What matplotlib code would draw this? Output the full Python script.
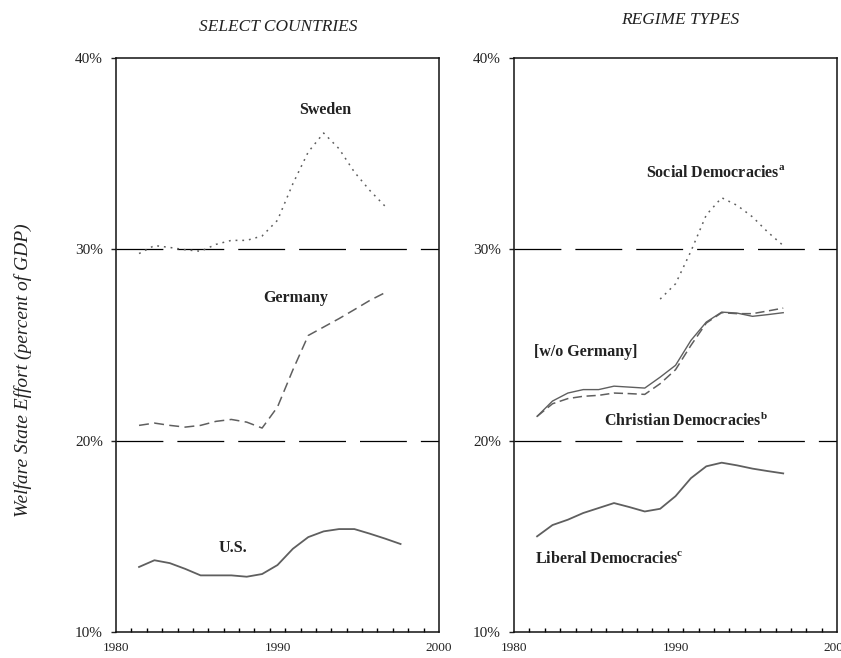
import numpy as np
import matplotlib
matplotlib.use("Agg")
import matplotlib.pyplot as plt

plt.rcParams['font.family'] = ['Liberation Serif', 'DejaVu Serif']
plt.rcParams['mathtext.fontset'] = 'custom'
plt.rcParams['mathtext.bf'] = 'Liberation Serif:bold'
plt.rcParams['mathtext.rm'] = 'Liberation Serif'

# --- data (percent of GDP) ---
years = np.arange(1981, 1999)

us = [13.4, 13.75, 13.6, 13.3, 12.96, 12.96, 12.96, 12.89, 13.03, 13.5,
      14.35, 14.96, 15.26, 15.38, 15.38, 15.14, 14.88, 14.6]
sweden = [29.78, 30.2, 30.1, 29.98, 29.9, 30.26, 30.47, 30.47, 30.7, 31.52,
          33.43, 35.09, 36.08, 35.26, 34.04, 33.08, 32.25]
germany = [20.8, 20.92, 20.8, 20.71, 20.8, 21.01, 21.11, 20.97, 20.66, 21.76,
           23.7, 25.5, 25.94, 26.38, 26.85, 27.33, 27.74]

liberal = [15.0, 15.59, 15.87, 16.22, 16.48, 16.74, 16.53, 16.3, 16.44, 17.1,
           18.04, 18.66, 18.85, 18.71, 18.54, 18.41, 18.29]
christian = [21.27, 21.93, 22.2, 22.32, 22.37, 22.49, 22.46, 22.42, 22.98, 23.71,
             24.98, 26.15, 26.69, 26.64, 26.64, 26.78, 26.93]
christian_wo_ger = [21.27, 22.07, 22.49, 22.67, 22.67, 22.85, 22.8, 22.75, 23.32, 23.94,
                    25.24, 26.2, 26.72, 26.67, 26.5, 26.59, 26.69]
social_years = np.arange(1989, 1998)
social = [27.4, 28.2, 29.9, 31.8, 32.7, 32.3, 31.7, 30.9, 30.2]

yticks = [10, 20, 30, 40]
ytick_labels = ['10%', '20%', '30%', '40%']
xlabels = ['1980', '1990', '2000']

grey = '#5f5f5f'

fig = plt.figure(figsize=(8.41, 6.58), dpi=100)
ax1 = fig.add_axes([0.1379, 0.0395, 0.3841, 0.8723])
ax2 = fig.add_axes([0.6112, 0.0395, 0.3841, 0.8723])

for ax in (ax1, ax2):
    ax.set_xlim(1979.5, 2000.5)
    ax.set_ylim(10, 40)
    for v in (20, 30):
        ax.axhline(v, color='black', lw=0.9, dashes=(37.5, 11.2), zorder=1)
    ax.set_yticks(yticks)
    ax.set_yticklabels(ytick_labels)
    ax.set_xticks([1979.5, 1990, 2000.5])
    ax.set_xticklabels(xlabels)
    ax.set_xticks(np.arange(1979.5, 2001), minor=True)
    ax.tick_params(axis='x', which='major', length=0, pad=7.5, labelsize=9.5, colors='#222222')
    ax.tick_params(axis='x', which='minor', direction='in', length=3, width=1, color='black')
    ax.tick_params(axis='y', direction='out', length=3.5, width=1, pad=6, labelsize=11,
                   colors='#222222')
    for s in ax.spines.values():
        s.set_linewidth(1.1)
        s.set_color('#111111')

# left panel: select countries
ax1.plot(years, us, color=grey, lw=1.3)
ax1.plot(years[:len(sweden)], sweden, color=grey, lw=1.1, dashes=(1.2, 3.2))
ax1.plot(years[:len(germany)], germany, color=grey, lw=1.1, dashes=(6.5, 3.5))

bold = dict(fontsize=11.5, fontweight='bold', color='#222222', ha='center', va='center')
ax1.text(1993.1, 37.3, 'Sweden', **bold)
ax1.text(1991.2, 27.45, 'Germany', **bold)
ax1.text(1987.1, 14.4, 'U.S.', **bold)

# right panel: regime types
ax2.plot(years[:len(liberal)], liberal, color=grey, lw=1.3)
ax2.plot(years[:len(christian_wo_ger)], christian_wo_ger, color=grey, lw=1.0)
ax2.plot(years[:len(christian)], christian, color=grey, lw=1.1, dashes=(6, 3))
ax2.plot(social_years, social, color=grey, lw=1.1, dashes=(1.2, 3.2))

ax2.text(1992.6, 34.0, r'Social Democracies$^{\mathbf{a}}$', **bold)
ax2.text(1990.7, 21.06, r'Christian Democracies$^{\mathbf{b}}$', **bold)
ax2.text(1985.7, 13.83, r'Liberal Democracies$^{\mathbf{c}}$', **bold)
ax2.text(1980.8, 24.63, '[w/o Germany]', fontsize=11.5, fontweight='bold',
         color='#222222', ha='left', va='center')

title_kw = dict(fontsize=12.5, fontstyle='italic', color='#222222', ha='center', va='center')
fig.text(278 / 841, 1 - 27 / 658, 'SELECT COUNTRIES', **title_kw)
fig.text(680 / 841, 1 - 20 / 658, 'REGIME TYPES', **title_kw)

fig.text(23 / 841, 1 - 370 / 658, 'Welfare State Effort (percent of GDP)', rotation=90,
         fontsize=14, fontstyle='italic', color='#222222', ha='center', va='center')

fig.savefig('out.png', dpi=100)
